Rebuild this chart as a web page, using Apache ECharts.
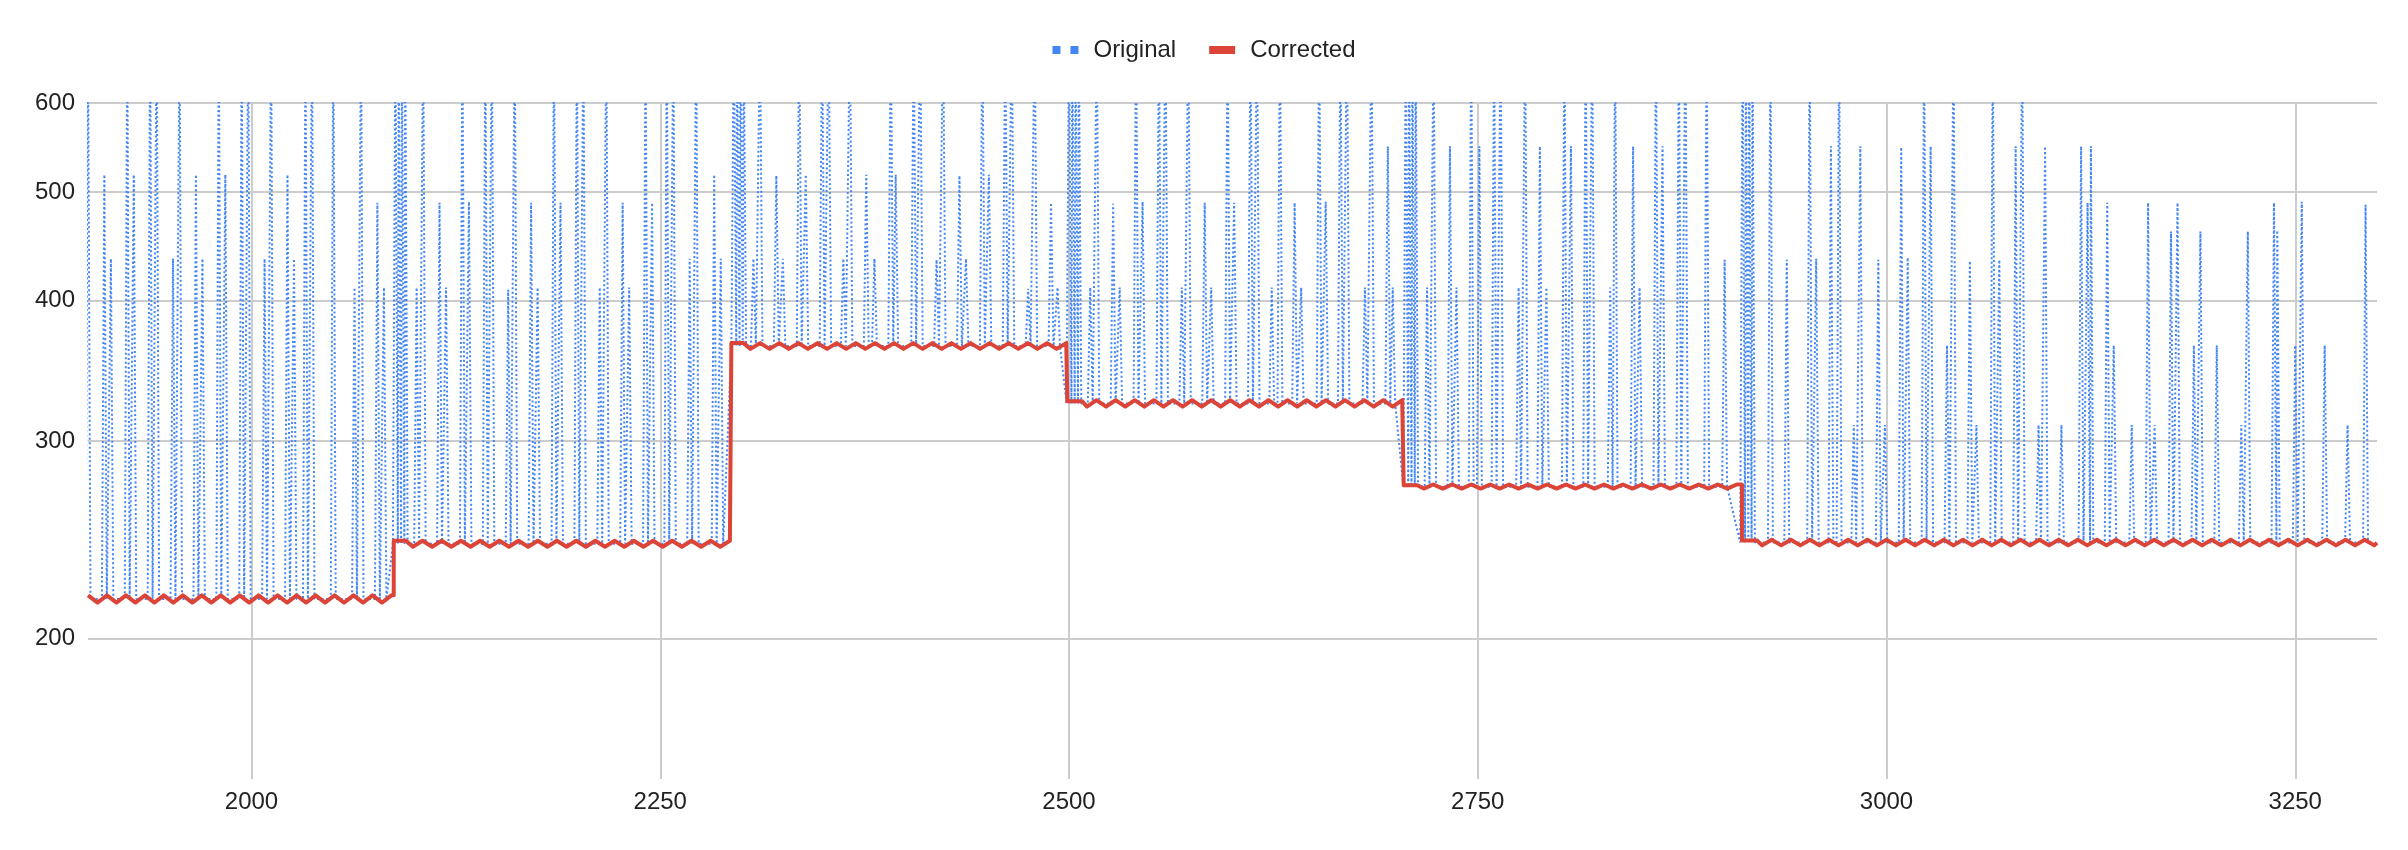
<!DOCTYPE html>
<html><head><meta charset="utf-8">
<script src="https://cdn.jsdelivr.net/npm/echarts@6/dist/echarts.min.js"></script>
<style>html,body{margin:0;padding:0;background:#fff}#c{width:2408px;height:850px}</style>
</head><body><div id="c"></div>
<script>
const xTicks = [2000, 2250, 2500, 2750, 3000, 3250];
const yTicks = [200, 300, 400, 500, 600];
const stepX = [1900, 2087, 2293.5, 2499, 2704.7, 2911.6, 3300];
const levels = [217, 243, 364.5, 324, 273.2, 243.6];

const corrected = [
[1900,218.6],[1905.8,215.4],[1911.6,218.6],[1917.4,215.4],[1923.2,218.6],[1929,215.4],[1934.8,218.6],[1940.6,215.4],[1946.4,218.6],[1952.2,215.4],[1958,218.6],[1963.8,215.4],[1969.6,218.6],[1975.4,215.4],[1981.2,218.6],[1987,215.4],[1992.8,218.6],[1998.6,215.4],[2004.4,218.6],[2010.2,215.4],[2016,218.6],[2021.8,215.4],[2027.6,218.6],[2033.4,215.4],[2039.2,218.6],[2045,215.4],[2050.8,218.6],[2056.6,215.4],[2062.4,218.6],[2068.2,215.4],[2074,218.6],[2079.8,215.4],[2085.6,218.6],[2087,218.6],
[2087,244.5],[2094.5,244.5],[2098.7,241.5],[2104.6,244.5],[2110.5,241.5],[2116.3,244.5],[2122.2,241.5],[2128.1,244.5],[2134,241.5],[2139.8,244.5],[2145.7,241.5],[2151.6,244.5],[2157.5,241.5],[2163.3,244.5],[2169.2,241.5],[2175.1,244.5],[2181,241.5],[2186.8,244.5],[2192.7,241.5],[2198.6,244.5],[2204.5,241.5],[2210.3,244.5],[2216.2,241.5],[2222.1,244.5],[2228,241.5],[2233.8,244.5],[2239.7,241.5],[2245.6,244.5],[2251.5,241.5],[2257.3,244.5],[2263.2,241.5],[2269.1,244.5],[2275,241.5],[2280.8,244.5],[2286.7,241.5],[2292.6,244.5],[2293.5,244.5],
[2293.5,366.7],[2301,366.7],[2305.2,362.4],[2311.1,366.7],[2316.9,362.4],[2322.8,366.7],[2328.6,362.4],[2334.5,366.7],[2340.3,362.4],[2346.2,366.7],[2352,362.4],[2357.9,366.7],[2363.7,362.4],[2369.6,366.7],[2375.4,362.4],[2381.3,366.7],[2387.1,362.4],[2393,366.7],[2398.8,362.4],[2404.7,366.7],[2410.5,362.4],[2416.4,366.7],[2422.2,362.4],[2428.1,366.7],[2433.9,362.4],[2439.8,366.7],[2445.6,362.4],[2451.5,366.7],[2457.3,362.4],[2463.2,366.7],[2469,362.4],[2474.9,366.7],[2480.7,362.4],[2486.6,366.7],[2492.4,362.4],[2498.3,366.7],[2499,366.7],
[2499,325.5],[2508,325.5],[2511,321.9],[2516.8,326.2],[2522.7,321.9],[2528.5,326.2],[2534.4,321.9],[2540.2,326.2],[2546.1,321.9],[2551.9,326.2],[2557.8,321.9],[2563.6,326.2],[2569.5,321.9],[2575.3,326.2],[2581.2,321.9],[2587,326.2],[2592.8,321.9],[2598.6,326.2],[2604.5,321.9],[2610.3,326.2],[2616.2,321.9],[2622,326.2],[2627.9,321.9],[2633.7,326.2],[2639.6,321.9],[2645.4,326.2],[2651.3,321.9],[2657.1,326.2],[2663,321.9],[2668.8,326.2],[2674.7,321.9],[2680.5,326.2],[2686.4,321.9],[2692.2,326.2],[2698,321.9],[2703.8,326.2],[2704.7,326.2],
[2704.7,274],[2713,274],[2717,272.1],[2722.8,274.4],[2728.6,272.1],[2734.4,274.4],[2740.2,272.1],[2746,274.4],[2751.8,272.1],[2757.6,274.4],[2763.4,272.1],[2769.2,274.4],[2775,272.1],[2780.8,274.4],[2786.6,272.1],[2792.4,274.4],[2798.2,272.1],[2804,274.4],[2809.8,272.1],[2815.6,274.4],[2821.4,272.1],[2827.2,274.4],[2833,272.1],[2838.8,274.4],[2844.6,272.1],[2850.4,274.4],[2856.2,272.1],[2862,274.4],[2867.8,272.1],[2873.6,274.4],[2879.4,272.1],[2885.2,274.4],[2891,272.1],[2896.8,274.4],[2902.6,272.1],[2908.4,274.4],[2911.6,274.4],
[2911.6,244.6],[2920.8,244.6],[2923.9,242.2],[2929.8,245],[2935.6,242.2],[2941.5,245],[2947.3,242.2],[2953.2,245],[2959,242.2],[2964.9,245],[2970.7,242.2],[2976.6,245],[2982.4,242.2],[2988.3,245],[2994.1,242.2],[3000,245],[3005.8,242.2],[3011.7,245],[3017.5,242.2],[3023.4,245],[3029.2,242.2],[3035.1,245],[3040.9,242.2],[3046.8,245],[3052.6,242.2],[3058.5,245],[3064.3,242.2],[3070.2,245],[3076,242.2],[3081.9,245],[3087.7,242.2],[3093.6,245],[3099.4,242.2],[3105.3,245],[3111.1,242.2],[3117,245],[3122.8,242.2],[3128.7,245],[3134.5,242.2],[3140.4,245],[3146.2,242.2],[3152.1,245],[3157.9,242.2],[3163.8,245],[3169.6,242.2],[3175.5,245],[3181.3,242.2],[3187.2,245],[3193,242.2],[3198.9,245],[3204.7,242.2],[3210.6,245],[3216.4,242.2],[3222.3,245],[3228.1,242.2],[3234,245],[3239.8,242.2],[3245.7,245],[3251.5,242.2],[3257.4,245],[3263.2,242.2],[3269.1,245],[3274.9,242.2],[3280.8,245],[3286.6,242.2],[3292.5,245],[3298.3,242.2],[3300,243.5]
];

// Original: spike positions and peak values (700 = beyond the top of the chart)
const spikeX = [
1900,1910,1914,1924,1928,1938,1942,1952,1956,1966,1970,1980,1984,1994,1998,2008,2012,2022,2026,2033,2037,2050,2063,2067,2077,2081,
2088,2090,2092,2094,
2101,2105,2115,2119,2129,2133,2143,2147,2157,2161,2171,2175,2185,2189,2199,2203,2213,2217,2227,2231,2241,2245,2254,2258,2268,2272,2283,2287,
2295,2297,2299,2301,
2307,2311,2321,2325,2335,2339,2349,2353,2362,2366,2376,2381,2391,2394,2405,2409,2419,2423,2433,2437,2447,2451,2461,2465,2475,2479,2489,2493,
2500,2502,2504,2506,
2513,2517,2527,2531,2541,2545,2555,2559,2569,2573,2583,2587,2597,2601,2611,2615,2624,2629,2638,2642,2653,2657,2666,2670,2681,2685,2695,2698,
2706,2708,2710,2712,
2719,2723,2733,2737,2746,2751,2760,2764,2775,2779,2788,2792,2803,2807,2816,2820,2831,2834,2845,2849,2859,2863,2873,2877,2890,2901,
2912,2914,2916,2918,
2929,2939,2953,2957,2966,2971,2980,2984,2995,2999,3009,3013,3023,3027,3037,3041,3051,3055,3065,3069,3079,3083,3093,3097,3107,3119,3123,3125,3135,3139,3150,3160,3164,3174,3178,3188,3192,3202,3217,3221,3237,3239,3250,3254,3268,3282,3293
];
const spikeH = [
700,518,436,700,518,700,700,436,700,518,436,700,518,700,700,436,700,518,436,700,700,700,411,700,489,411,
700,700,700,700,
411,700,489,411,700,490,700,700,409,700,489,411,700,489,700,700,411,700,489,411,700,489,700,700,436,700,518,436,
700,700,700,700,
436,700,517,436,700,518,700,700,436,700,518,436,700,518,700,700,435,700,517,436,700,518,700,700,410,700,489,411,
700,700,700,700,
411,700,488,411,700,490,700,700,411,700,489,411,700,489,700,700,411,700,489,411,700,490,700,700,411,700,549,411,
700,700,700,700,
411,700,549,411,700,549,700,700,411,700,549,411,700,549,700,700,411,700,549,411,700,549,700,700,700,435,
700,700,700,700,
700,435,700,436,549,700,310,549,435,310,548,437,700,549,365,700,434,310,700,435,549,700,310,549,310,549,489,549,489,365,310,489,310,461,489,365,461,365,310,461,489,462,365,490,365,310,487
];

function levelAt(x) {
  for (let i = 0; i < levels.length; i++) { if (x < stepX[i + 1]) return levels[i]; }
  return levels[levels.length - 1];
}
const original = [];
spikeX.forEach((x, i) => {
  const b = levelAt(x);
  original.push([x - 1.5, b], [x, spikeH[i]], [x + 1.5, b]);
});

const font = 'Arial, "Liberation Sans", sans-serif';
const chart = echarts.init(document.getElementById('c'), null, { renderer: 'canvas' });
chart.setOption({
  animation: false,
  backgroundColor: '#fff',
  textStyle: { fontFamily: font },
  legend: {
    top: 33, left: 'center', itemGap: 33, itemWidth: 26, itemHeight: 8,
    textStyle: { fontSize: 24, color: '#222', fontFamily: font, padding: [0, 0, 0, 10] },
    data: [
      { name: 'Original', icon: 'path://M0,0h8v8h-8z M18,0h8v8h-8z' },
      { name: 'Corrected', icon: 'rect' }
    ]
  },
  grid: { left: 88, right: 31, top: 103, bottom: 71, containLabel: false },
  xAxis: {
    type: 'value', min: 1900, max: 3300,
    axisLine: { show: false },
    axisTick: { show: false, customValues: xTicks },
    axisLabel: { customValues: xTicks, fontSize: 24, color: '#222', margin: 11, fontFamily: font,
      formatter: v => String(v) },
    splitLine: { show: true, lineStyle: { color: '#cccccc', width: 2 } }
  },
  yAxis: {
    type: 'log', min: 150, max: 600, logBase: 10,
    axisLine: { show: false },
    axisTick: { show: false, customValues: yTicks },
    axisLabel: { customValues: yTicks, fontSize: 24, color: '#222', margin: 13, fontFamily: font,
      formatter: v => String(v) },
    splitLine: { show: true, lineStyle: { color: '#cccccc', width: 2 } }
  },
  series: [
    {
      name: 'Original', type: 'line', data: original, showSymbol: false, symbol: 'none',
      clip: true,
      lineStyle: { color: '#4285F4', width: 2, type: [2, 2.5] },
      itemStyle: { color: '#4285F4' }, z: 2
    },
    {
      name: 'Corrected', type: 'line', data: corrected, showSymbol: false, symbol: 'none',
      clip: true,
      lineStyle: { color: '#DB4437', width: 4, join: 'round' },
      itemStyle: { color: '#DB4437' }, z: 3
    }
  ]
});
</script></body></html>
